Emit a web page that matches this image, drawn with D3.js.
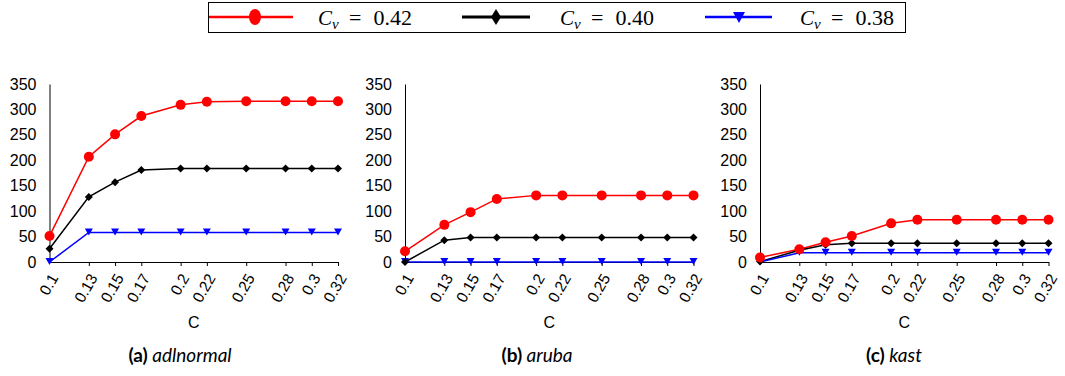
<!DOCTYPE html>
<html><head><meta charset="utf-8">
<script src="https://cdn.jsdelivr.net/npm/d3@7"></script>
<style>
body{margin:0;background:#fff;}
svg{display:block;}
</style></head>
<body>
<svg id="chart" width="1065" height="376"></svg>
<script>
const cValues = [0.1,0.13,0.15,0.17,0.2,0.22,0.25,0.28,0.3,0.32];
const cTickLabels = ["0.1","0.13","0.15","0.17","0.2","0.22","0.25","0.28","0.3","0.32"];
const yTicks = [0,50,100,150,200,250,300,350];
const legendValues = ["0.42","0.40","0.38"];
const panelLetters = ["(a)","(b)","(c)"];
const panelNames = ["adlnormal","aruba","kast"];

const adlnormal042 = [51,207,251,287,309,315,316,316,316,316];
const adlnormal040 = [26,128,157,181,184,184,184,184,184,184];
const adlnormal038 = [0,58,58,58,58,58,58,58,58,58];
const aruba042 = [21,73,98,124,131,131,131,131,131,131];
const aruba040 = [0,43,48,48,48,48,48,48,48,48];
const aruba038 = [0,0,0,0,0,0,0,0,0,0];
const kast042 = [9,25,39,51,76,83,83,83,83,83];
const kast040 = [1,23,34,37,37,37,37,37,37,37];
const kast038 = [0,18,18,18,18,18,18,18,18,18];

const panels = [
  [adlnormal042, adlnormal040, adlnormal038],
  [aruba042, aruba040, aruba038],
  [kast042, kast040, kast038]
];

const colors = ["#ff0000","#000000","#0000ff"];
const svg = d3.select("#chart");

const panelX = [49.5, 405, 760];
const plotW = 288.5;
const yTop = 84, yBot = 262;
const sans = "'Liberation Sans', Arial, sans-serif";

const yScale = d3.scaleLinear().domain([0,350]).range([yBot,yTop]);

function marker(g, type, x, y, color){
  if(type===0){
    g.append("circle").attr("cx",x).attr("cy",y).attr("r",5).attr("fill",color);
  } else if(type===1){
    const s=4;
    g.append("path").attr("d",`M${x},${y-s}L${x+s},${y}L${x},${y+s}L${x-s},${y}Z`).attr("fill",color);
  } else {
    g.append("path").attr("d",`M${x-4},${y-4}L${x+4},${y-4}L${x},${y+3}Z`).attr("fill",color);
  }
}

panels.forEach((series, pi) => {
  const x0 = panelX[pi];
  const xScale = d3.scaleLinear().domain([0.1,0.32]).range([x0, x0+plotW]);
  const g = svg.append("g");

  const yAxis = d3.axisLeft(yScale).tickValues(yTicks).tickSize(0).tickPadding(13);
  const ya = g.append("g").attr("transform",`translate(${x0},0)`).call(yAxis);
  ya.select(".domain").attr("stroke","#000").attr("stroke-width",1);
  ya.selectAll("text").attr("font-family",sans).attr("font-size","16px").attr("fill","#000");

  const xAxis = d3.axisBottom(xScale).tickValues(cValues).tickSize(4).tickSizeOuter(0)
    .tickFormat((d,i)=>cTickLabels[i]);
  const xa = g.append("g").attr("transform",`translate(0,${yBot})`).call(xAxis);
  xa.select(".domain").attr("stroke","#000").attr("stroke-width",1);
  xa.selectAll(".tick line").attr("stroke","#000");
  xa.selectAll(".tick").filter((d,i)=>i===0).select("line").remove();
  xa.selectAll("text")
    .attr("font-family",sans).attr("font-size","15.5px").attr("fill","#000")
    .attr("text-anchor","end").attr("dy","0.35em").attr("y",0)
    .attr("transform","translate(4,13) rotate(-60)");

  series.forEach((vals, si) => {
    const line = d3.line().x((d,i)=>xScale(cValues[i])).y(d=>yScale(d));
    g.append("path").datum(vals).attr("d",line).attr("fill","none")
      .attr("stroke",colors[si]).attr("stroke-width",1.5);
  });
  [2,1,0].forEach(si => {
    series[si].forEach((v,i)=> marker(g, si, xScale(cValues[i]), yScale(v), colors[si]));
  });

  g.append("text").attr("x", x0+plotW/2).attr("y",328).attr("text-anchor","middle")
    .attr("font-family",sans).attr("font-size","16px").text("C");

  const capCenter = [180, 537, 894][pi];
  const cap = g.append("text").attr("x",capCenter).attr("y",362).attr("text-anchor","middle")
    .attr("font-family","Lato, 'Open Sans', sans-serif").attr("font-size","19px");
  cap.append("tspan").attr("font-weight","bold").text(panelLetters[pi]);
  cap.append("tspan").attr("font-style","italic").text(" " + panelNames[pi]);
});

// legend
const lg = svg.append("g");
lg.append("rect").attr("x",208.5).attr("y",2.5).attr("width",697).attr("height",30)
  .attr("fill","none").attr("stroke","#000").attr("stroke-width",1);
const legItems = [
  {x1:209,x2:293,mx:255,tx:318,lw:2.5},
  {x1:462,x2:530,mx:496,tx:560,lw:3},
  {x1:705,x2:772,mx:739,tx:800,lw:2.5}
];
const serif = "'Liberation Serif', 'DejaVu Serif', serif";
legItems.forEach((it,i)=>{
  lg.append("line").attr("x1",it.x1).attr("x2",it.x2).attr("y1",17).attr("y2",17)
    .attr("stroke",colors[i]).attr("stroke-width",it.lw);
  if(i===0) lg.append("ellipse").attr("cx",it.mx).attr("cy",17).attr("rx",6).attr("ry",8).attr("fill",colors[i]);
  else if(i===1) lg.append("path").attr("d",`M${it.mx},9L${it.mx+5},17L${it.mx},25L${it.mx-5},17Z`).attr("fill",colors[i]);
  else lg.append("path").attr("d",`M${it.mx-6},12L${it.mx+6},12L${it.mx},23Z`).attr("fill",colors[i]);
  const base = 25;
  lg.append("text").attr("x",it.tx).attr("y",base).attr("font-family",serif)
    .attr("font-size","21px").attr("font-style","italic").text("C");
  lg.append("text").attr("x",it.tx+14).attr("y",base+4).attr("font-family",serif)
    .attr("font-size","15px").attr("font-style","italic").text("v");
  lg.append("text").attr("x",it.tx+31).attr("y",base).attr("font-family",serif)
    .attr("font-size","22px").text("=");
  lg.append("text").attr("x",it.tx+94).attr("y",base).attr("font-family",serif)
    .attr("font-size","22px").attr("text-anchor","end").text(legendValues[i]);
});
</script>
</body></html>
